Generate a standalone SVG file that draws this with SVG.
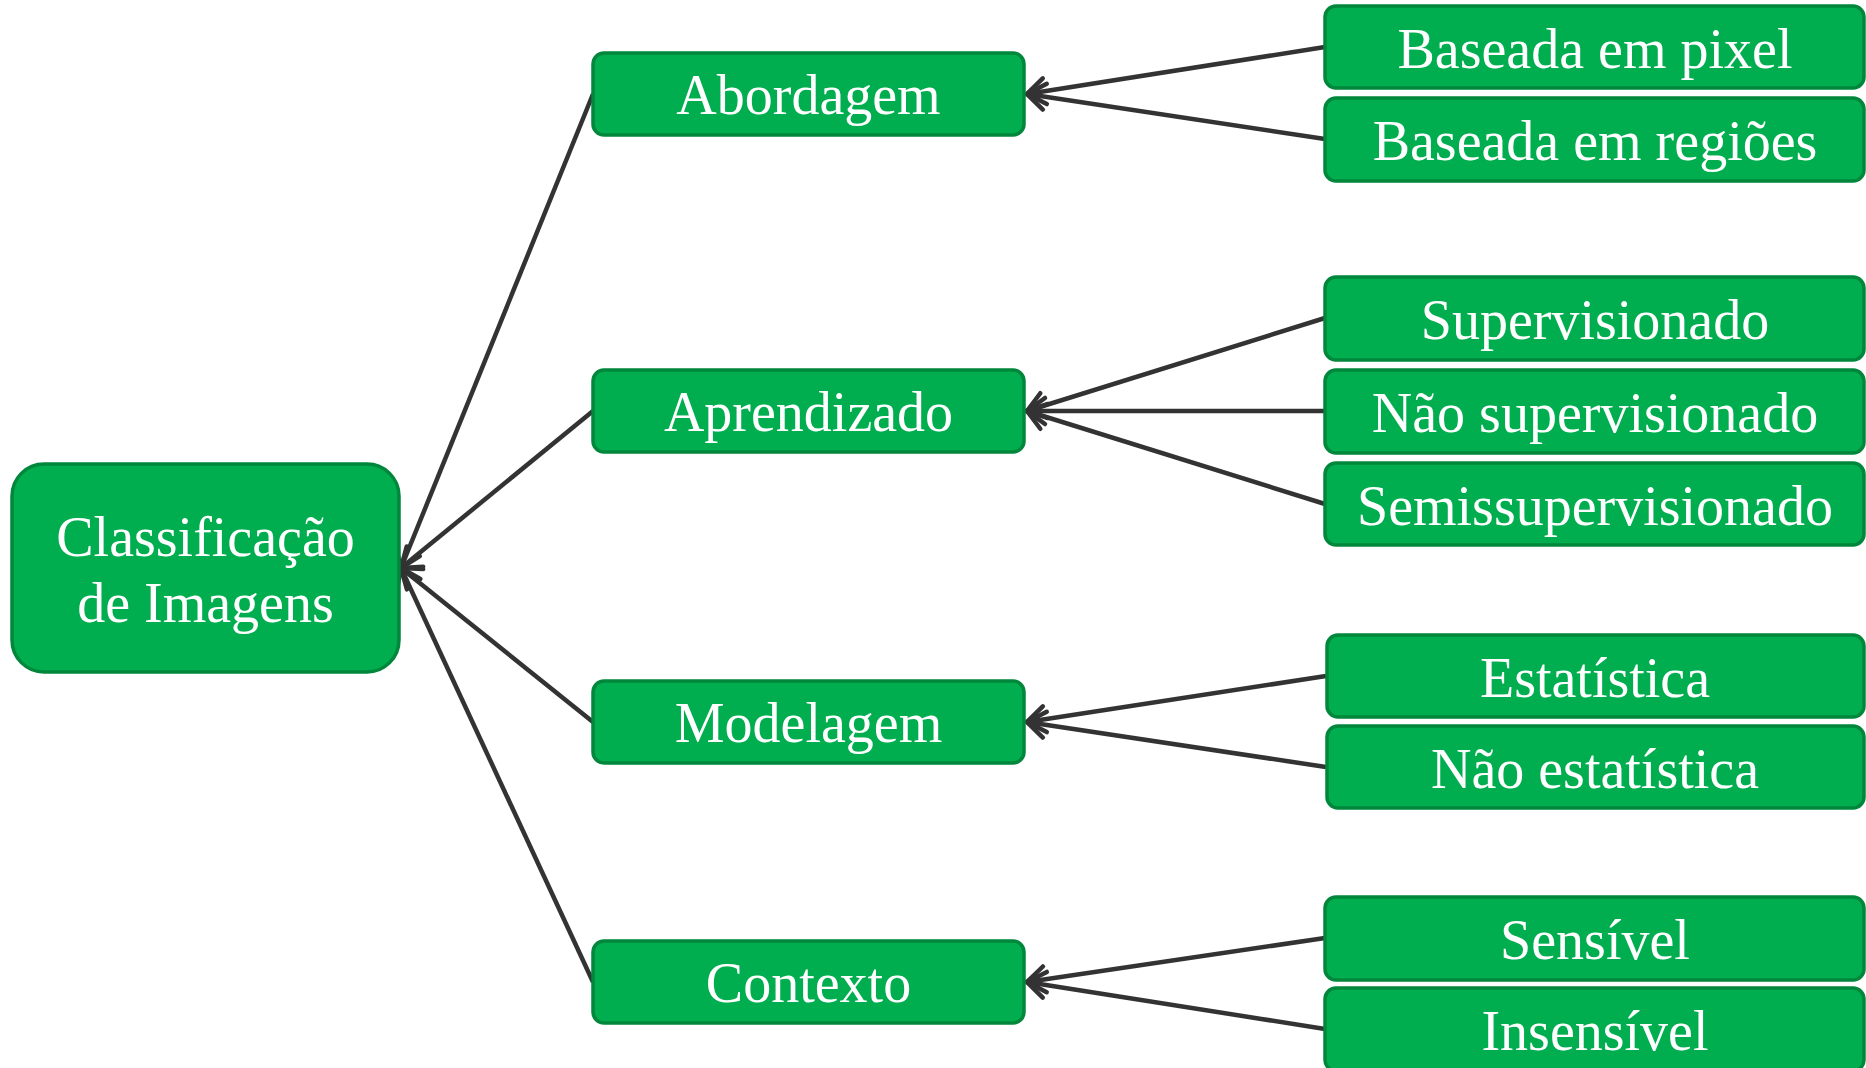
<svg xmlns="http://www.w3.org/2000/svg" width="1866" height="1068" viewBox="0 0 1866 1068">
<style>
.box{fill:#00AE4F;stroke:#00873C;stroke-width:3.5}
.t{fill:#ffffff;font-family:"Liberation Serif","Times New Roman",serif;font-size:56px;text-anchor:middle}
.c{stroke:#333333;stroke-width:4.5;fill:none;marker-end:url(#arr)}
</style>
<defs>
<marker id="arr" markerUnits="userSpaceOnUse" viewBox="-22 -16 26 32" markerWidth="26" markerHeight="32" refX="0" refY="0" orient="auto" overflow="visible">
<path d="M-18,-13 L0,0 L-18,13" fill="none" stroke="#333333" stroke-width="4.5" stroke-linecap="round" stroke-linejoin="miter"/>
</marker>
</defs>
<rect width="1866" height="1068" fill="#ffffff"/>
<g id="connectors">
<line class="c" x1="1325" y1="47" x2="1027" y2="94"/>
<line class="c" x1="1325" y1="139" x2="1027" y2="94"/>
<line class="c" x1="1325" y1="318" x2="1027" y2="411"/>
<line class="c" x1="1325" y1="411" x2="1027" y2="411"/>
<line class="c" x1="1325" y1="504" x2="1027" y2="411"/>
<line class="c" x1="1326" y1="676" x2="1027" y2="722"/>
<line class="c" x1="1326" y1="767" x2="1027" y2="722"/>
<line class="c" x1="1325" y1="938" x2="1027" y2="982"/>
<line class="c" x1="1325" y1="1029" x2="1027" y2="982"/>
<line class="c" x1="593" y1="94" x2="401" y2="568"/>
<line class="c" x1="593" y1="411" x2="401" y2="568"/>
<line class="c" x1="593" y1="722" x2="401" y2="568"/>
<line class="c" x1="593" y1="982" x2="401" y2="568"/>
</g>
<g id="root">
<rect class="box" x="12" y="464" width="387" height="208" rx="32"/>
<text class="t" x="205.5" y="556">Classificação</text>
<text class="t" x="205.5" y="622">de Imagens</text>
</g>
<g id="abordagem">
<rect class="box" x="593" y="53" width="431" height="82" rx="11"/>
<text class="t" x="808.5" y="114">Abordagem</text>
</g>
<g id="aprendizado">
<rect class="box" x="593" y="370" width="431" height="82" rx="11"/>
<text class="t" x="808.5" y="431">Aprendizado</text>
</g>
<g id="modelagem">
<rect class="box" x="593" y="681" width="431" height="82" rx="11"/>
<text class="t" x="808.5" y="742">Modelagem</text>
</g>
<g id="contexto">
<rect class="box" x="593" y="941" width="431" height="82" rx="11"/>
<text class="t" x="808.5" y="1002">Contexto</text>
</g>
<g id="pixel">
<rect class="box" x="1325" y="6" width="539" height="82" rx="11"/>
<text class="t" x="1595" y="68">Baseada em pixel</text>
</g>
<g id="regioes">
<rect class="box" x="1325" y="98" width="539" height="83" rx="11"/>
<text class="t" x="1595" y="160">Baseada em regiões</text>
</g>
<g id="supervisionado">
<rect class="box" x="1325" y="277" width="539" height="83" rx="11"/>
<text class="t" x="1595" y="339">Supervisionado</text>
</g>
<g id="nao-supervisionado">
<rect class="box" x="1325" y="370" width="539" height="83" rx="11"/>
<text class="t" x="1595" y="432">Não supervisionado</text>
</g>
<g id="semissupervisionado">
<rect class="box" x="1325" y="463" width="539" height="82" rx="11"/>
<text class="t" x="1595" y="525">Semissupervisionado</text>
</g>
<g id="estatistica">
<rect class="box" x="1327" y="635" width="537" height="82" rx="11"/>
<text class="t" x="1595" y="697">Estatística</text>
</g>
<g id="nao-estatistica">
<rect class="box" x="1327" y="726" width="537" height="82" rx="11"/>
<text class="t" x="1595" y="788">Não estatística</text>
</g>
<g id="sensivel">
<rect class="box" x="1325" y="897" width="539" height="83" rx="11"/>
<text class="t" x="1595" y="959">Sensível</text>
</g>
<g id="insensivel">
<rect class="box" x="1325" y="988" width="539" height="83" rx="11"/>
<text class="t" x="1595" y="1050">Insensível</text>
</g>
</svg>
